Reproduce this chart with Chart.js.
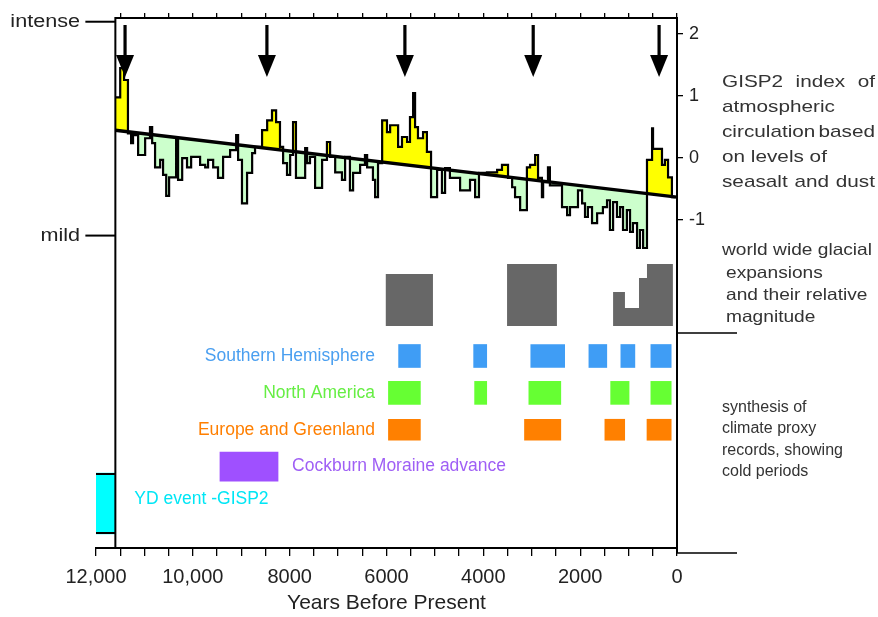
<!DOCTYPE html>
<html><head><meta charset="utf-8">
<script src="https://cdn.jsdelivr.net/npm/chart.js@4/dist/chart.umd.min.js"></script>
<style>html,body{margin:0;padding:0;background:#fff}</style>
</head><body>
<canvas id="c" width="878" height="617"></canvas>
<script>
const FONT = "'Liberation Sans', Arial, Helvetica, sans-serif";
const TXT = '#222';

// GISP2 index of atmospheric circulation, step series (years BP -> index)
const GISP_YEARS = [
  11600,11500,11420,11340,11275,11235,11130,10985,10885,10840,
  10780,10675,10615,10550,10490,10345,10305,10220,10120,10035,
  9850,9745,9685,9580,9480,9375,9230,9105,9065,8985,
  8880,8775,8715,8570,8465,8365,8280,8200,8135,8055,
  7990,7930,7870,7680,7640,7580,7475,7330,7230,7165,
  7060,6920,6855,6755,6690,6545,6445,6400,6280,6235,
  6175,6090,5990,5925,5760,5680,5575,5515,5450,5410,
  5350,5245,5165,5080,4955,4855,4790,4690,4480,4275,
  4170,4090,3925,3715,3615,3490,3405,3345,3240,3100,
  3035,2930,2870,2790,2765,2665,2625,2375,2270,2210,
  2045,1960,1900,1840,1755,1650,1530,1445,1385,1320,
  1240,1175,1115,1035,970,910,825,765,700,620,
  515,495,310,250,185,105,40
];
const GISP_INDEX = [
  0.98,1.45,1.26,0.40,0.24,0.37,0.05,0.32,0.50,0.24,
  -0.15,-0.03,-0.27,-0.61,-0.31,0.32,-0.35,0.00,-0.15,0.02,
  -0.11,-0.15,-0.03,-0.15,-0.32,0.02,0.13,0.37,-0.03,-0.73,
  -0.24,0.08,0.18,0.45,0.61,0.77,0.58,0.18,-0.08,-0.27,
  0.05,0.58,-0.32,0.16,-0.08,0.02,-0.48,-0.03,0.26,0.02,
  -0.23,-0.35,0.02,-0.52,-0.24,-0.11,0.05,-0.15,-0.35,-0.63,
  -0.08,0.61,0.42,0.53,0.18,0.34,0.26,0.66,1.05,0.50,
  0.32,0.42,0.10,-0.63,-0.19,-0.56,-0.16,-0.32,-0.52,-0.35,
  -0.63,-0.24,-0.23,-0.19,-0.11,-0.32,-0.47,-0.63,-0.84,-0.15,
  -0.11,0.05,-0.32,-0.63,-0.39,-0.15,-0.44,-0.79,-0.92,-0.79,
  -0.52,-0.73,-0.95,-0.79,-1.05,-0.89,-0.79,-0.68,-1.16,-0.71,
  -0.95,-0.79,-1.16,-0.84,-1.19,-1.05,-1.45,-1.16,-1.45,-0.03,
  0.48,0.15,-0.11,-0.03,-0.31,-0.63,-0.63
];
// straight trend line through the record
const TREND_YEARS = [11600, 0];
const TREND_INDEX = [0.45, -0.63];
// arrows marking strong circulation events
const ARROW_YEARS = [11400, 8470, 5620, 2970, 370];

const GISP_TICKS = [-1, 0, 1, 2];
const LEFT_LABELS = ['intense', 'mild'];
const LEFT_LEVELS = [2.2, -1.25];

const X_TICKS = [12000, 10000, 8000, 6000, 4000, 2000, 0];
const X_LABELS = ['12,000', '10,000', '8000', '6000', '4000', '2000', '0'];

// world wide glacial expansions: steps of [year BP, relative magnitude]
const GLACIAL = [
  [[6020, 5.2], [5040, 5.2]],
  [[3510, 6.2], [2480, 6.2]],
  [[1320, 3.4], [1075, 1.8], [785, 4.8], [620, 6.2], [85, 6.2]]
];

// cold periods, [from, to] years BP
const ROW_NAMES = ['Southern Hemisphere', 'North America', 'Europe and Greenland', 'Cockburn Moraine advance', 'YD event -GISP2'];
const SOUTH_HEMI = [[5750,5300],[4200,3930],[3020,2320],[1820,1450],[1160,870],[540,120]];
const NORTH_AM  = [[5960,5300],[4180,3930],[3060,2400],[1370,990],[540,120]];
const EUROPE_GR = [[5960,5300],[3150,2400],[1490,1080],[620,120]];
const COCKBURN  = [[9440,8240]];
const YD_EVENT  = [[12000,11600]];

const ROW_STYLE = [
  {data: SOUTH_HEMI, fill: '#3f9df5', ink: '#4a9ff0', thick: 23},
  {data: NORTH_AM,  fill: '#66ff33', ink: '#66ee44', thick: 23},
  {data: EUROPE_GR, fill: '#ff8000', ink: '#ff7f00', thick: 21},
  {data: COCKBURN,  fill: '#9f50ff', ink: '#9f5ff5', thick: 29},
  {data: YD_EVENT,  fill: '#00ffff', ink: '#00e6f5', thick: 61}
];

const glacialPts = [];
GLACIAL.forEach((blk, i) => {
  if (i) glacialPts.push({x: (GLACIAL[i-1][GLACIAL[i-1].length-1][0] + blk[0][0]) / 2, y: null});
  blk.forEach(([x, y]) => glacialPts.push({x, y}));
});

const datasets = [
  {type: 'line', data: GISP_YEARS.map((x, i) => ({x, y: GISP_INDEX[i]})), xAxisID: 'x', yAxisID: 'y',
   stepped: true, borderColor: '#000', borderWidth: 2.2, pointRadius: 0, order: 1,
   fill: {target: 1, above: '#ffff00', below: '#ccffcc'}},
  {type: 'line', data: TREND_YEARS.map((x, i) => ({x, y: TREND_INDEX[i]})), xAxisID: 'x', yAxisID: 'y',
   borderColor: '#000', borderWidth: 3.4, pointRadius: 0, fill: false, order: 0},
  {type: 'line', data: glacialPts, xAxisID: 'x', yAxisID: 'yMag', stepped: true, spanGaps: false,
   borderColor: 'rgba(0,0,0,0)', borderWidth: 0, pointRadius: 0, backgroundColor: '#676767',
   fill: {value: 0}, order: 3}
];
const ROW_BASE = datasets.length;
ROW_STYLE.forEach((r, i) => datasets.push({
  type: 'bar', indexAxis: 'y', grouped: false, xAxisID: 'x', yAxisID: 'yRows',
  data: r.data.map(d => ({x: d, y: i + 1})),
  backgroundColor: r.fill, borderWidth: 0, barThickness: r.thick, order: 4
}));

function drawText(ctx, txt, x, y, size, sx, align, color) {
  ctx.save();
  ctx.font = size + 'px ' + FONT;
  ctx.fillStyle = color; ctx.textBaseline = 'middle'; ctx.textAlign = 'left';
  const w = ctx.measureText(txt).width * sx;
  const left = align === 'right' ? x - w : (align === 'center' ? x - w / 2 : x);
  ctx.translate(left, y); ctx.scale(sx, 1);
  ctx.fillText(txt, 0, 0);
  ctx.restore();
  return w;
}
function drawJustified(ctx, txt, x, y, width, size, sx, color) {
  ctx.save();
  ctx.font = size + 'px ' + FONT;
  const words = txt.split(' ');
  const ws = words.map(w => ctx.measureText(w).width * sx);
  const gap = (width - ws.reduce((a, b) => a + b, 0)) / (words.length - 1);
  ctx.restore();
  let cx = x;
  words.forEach((w, i) => { drawText(ctx, w, cx, y, size, sx, 'left', color); cx += ws[i] + gap; });
}

const RIGHT_1 = [['GISP2 index of', 1], ['atmospheric', 0], ['circulation based', 1], ['on levels of', 0], ['seasalt and dust', 1]];
const RIGHT_2 = ['world wide glacial', 'expansions', 'and their relative', 'magnitude'];
const RIGHT_3 = ['synthesis of', 'climate proxy', 'records, showing', 'cold periods'];

const decor = {
  id: 'decor',
  afterDatasetsDraw(chart) {
    const {ctx, chartArea: a, scales: {x, y, yRows}} = chart;
    const x0 = x.getPixelForValue(GISP_YEARS[0]);
    ctx.save();
    ctx.strokeStyle = '#000'; ctx.fillStyle = '#000'; ctx.lineWidth = 2;
    // frame of the index panel
    ctx.beginPath();
    ctx.moveTo(x0, a.bottom); ctx.lineTo(x0, a.top); ctx.lineTo(a.right, a.top);
    ctx.moveTo(a.right, a.bottom); ctx.lineTo(a.right, a.bottom + 5);
    ctx.stroke();
    // black edges on the YD block
    const yd = chart.getDatasetMeta(ROW_BASE + 4).data[0];
    if (yd) {
      const l = Math.min(yd.x, yd.base), r = Math.max(yd.x, yd.base);
      ctx.beginPath();
      ctx.moveTo(l, yd.y - yd.height / 2 + 1); ctx.lineTo(r, yd.y - yd.height / 2 + 1);
      ctx.moveTo(l, yd.y + yd.height / 2 - 1); ctx.lineTo(r, yd.y + yd.height / 2 - 1);
      ctx.stroke();
    }
    // intense / mild marks
    LEFT_LABELS.forEach((t, i) => {
      const py = y.getPixelForValue(LEFT_LEVELS[i]);
      ctx.beginPath(); ctx.moveTo(x0 - 30, py); ctx.lineTo(x0, py); ctx.stroke();
      drawText(ctx, t, 80, py, 18, 1.2, 'right', TXT);
    });
    // arrows
    ARROW_YEARS.forEach(yr => {
      const px = x.getPixelForValue(yr);
      ctx.fillRect(px - 1.6, a.top + 7, 3.2, 34);
      ctx.beginPath();
      ctx.moveTo(px - 9, a.top + 37); ctx.lineTo(px + 9, a.top + 37); ctx.lineTo(px, a.top + 59);
      ctx.closePath(); ctx.fill();
    });
    // separators on the right
    ctx.lineWidth = 1.5;
    ctx.beginPath();
    ctx.moveTo(a.right, 333); ctx.lineTo(a.right + 60, 333);
    ctx.moveTo(a.right, a.bottom + 5); ctx.lineTo(a.right + 60, a.bottom + 5);
    ctx.stroke();
    // row labels
    for (let i = 0; i < 3; i++) {
      drawText(ctx, ROW_NAMES[i], 375, yRows.getPixelForValue(i + 1), 17.5, 1, 'right', ROW_STYLE[i].ink);
    }
    drawText(ctx, ROW_NAMES[3], x.getPixelForValue(COCKBURN[0][1]) + 14, yRows.getPixelForValue(4), 17.5, 1, 'left', ROW_STYLE[3].ink);
    drawText(ctx, ROW_NAMES[4], x0 + 19, yRows.getPixelForValue(5) - 4, 17.5, 1, 'left', ROW_STYLE[4].ink);
    // right-hand captions
    const rx = a.right + 45;
    RIGHT_1.forEach(([t, j], i) => {
      const py = 82 + 25 * i;
      if (j) drawJustified(ctx, t, rx, py, 153, 17, 1.22, '#333');
      else drawText(ctx, t, rx, py, 17, 1.22, 'left', '#333');
    });
    [250, 273, 295, 317].forEach((py, i) => drawText(ctx, RIGHT_2[i], rx + (i ? 4 : 0), py, 16.5, 1.16, 'left', '#333'));
    [408, 429, 451, 472].forEach((py, i) => drawText(ctx, RIGHT_3[i], rx, py, 16, 1.0, 'left', '#333'));
    ctx.restore();
  }
};

new Chart(document.getElementById('c'), {
  type: 'line',
  data: {datasets},
  options: {
    responsive: false, animation: false, devicePixelRatio: 1, events: [],
    layout: {padding: {left: 96, right: 0, top: 0, bottom: 0}},
    plugins: {legend: {display: false}, tooltip: {enabled: false}},
    scales: {
      x: {
        type: 'linear', position: 'bottom', reverse: true, min: 0, max: 12000, offset: false,
        ticks: {stepSize: 500, autoSkip: false, maxRotation: 0, padding: 9, color: TXT,
          font: {family: FONT, size: 20},
          callback: v => { const k = X_TICKS.indexOf(v); return k < 0 ? '' : X_LABELS[k]; }},
        grid: {drawOnChartArea: false, tickLength: 8, color: '#000', lineWidth: 1.3, offset: false},
        border: {display: true, color: '#000', width: 2},
        title: {display: true, text: 'Years Before Present', color: TXT, font: {family: FONT, size: 21}, padding: {top: 0, bottom: 1}},
        afterFit: s => { s.height = 69; }
      },
      xTop: {
        type: 'linear', position: 'top', reverse: true, min: 0, max: 12000, offset: false,
        ticks: {stepSize: 500, display: false},
        grid: {drawOnChartArea: false, tickLength: 5, color: '#000', lineWidth: 1.3},
        border: {display: false},
        afterBuildTicks: s => { s.ticks = s.ticks.filter(t => t.value <= GISP_YEARS[0]); },
        afterFit: s => { s.height = 18; }
      },
      y: {
        type: 'linear', position: 'right', min: -6.29, max: 2.26, offset: false,
        afterBuildTicks: s => { s.ticks = GISP_TICKS.map(v => ({value: v})); },
        ticks: {color: TXT, font: {family: FONT, size: 18}, padding: 6, callback: v => String(v)},
        grid: {drawOnChartArea: false, tickLength: 6, color: '#000', lineWidth: 1.3},
        border: {color: '#000', width: 2},
        afterFit: s => { s.width = 201; }
      },
      yMag: {type: 'linear', display: false, min: -22.2, max: 30.8, offset: false},
      yRows: {type: 'linear', display: false, reverse: true, min: -8.166, max: 6.207, offset: false, grid: {offset: false}}
    }
  },
  plugins: [decor]
});
</script>
</body></html>
